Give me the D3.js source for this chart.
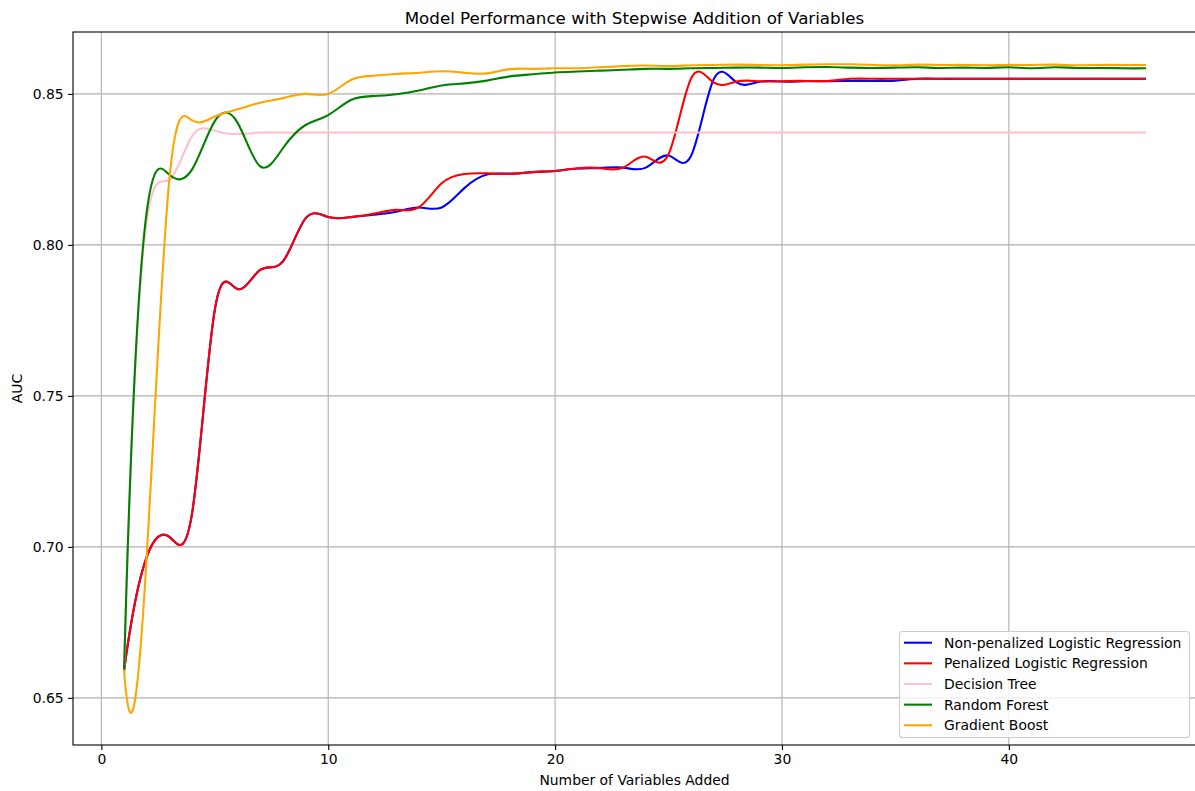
<!DOCTYPE html>
<html>
<head>
<meta charset="utf-8">
<script src="https://cdn.jsdelivr.net/npm/d3@7"></script>
<style>
  html, body { margin: 0; padding: 0; background: #fff; }
  svg { display: block; font-family: "DejaVu Sans", sans-serif; }
</style>
</head>
<body>
<svg id="chart" width="1195" height="791"></svg>
<script>
// ---- data ----
const variables = d3.range(1, 47);
const nonPenalizedLR = [0.659, 0.6967, 0.7033, 0.7112, 0.7785, 0.7854, 0.7917, 0.7945, 0.8088, 0.8092,
  0.8092, 0.8100, 0.8110, 0.8124, 0.8124, 0.8188, 0.8233, 0.8236, 0.8241, 0.8245,
  0.8253, 0.8255, 0.8256, 0.8256, 0.8296, 0.8296, 0.8550, 0.8538, 0.8540, 0.8541,
  0.8542, 0.8542, 0.8543, 0.8543, 0.8544, 0.8550, 0.8550, 0.8550, 0.8550, 0.8550,
  0.8550, 0.8550, 0.8550, 0.8550, 0.8550, 0.8550];
const penalizedLR = [0.659, 0.6967, 0.7033, 0.7112, 0.7785, 0.7854, 0.7917, 0.7945, 0.8088, 0.8092,
  0.8092, 0.8103, 0.8116, 0.8125, 0.8204, 0.8235, 0.8237, 0.8235, 0.8241, 0.8245,
  0.8254, 0.8254, 0.8256, 0.8292, 0.8300, 0.8552, 0.8537, 0.8541, 0.8542, 0.8542,
  0.8543, 0.8543, 0.8550, 0.8550, 0.8550, 0.8550, 0.8550, 0.8550, 0.8550, 0.8550,
  0.8550, 0.8550, 0.8550, 0.8550, 0.8550, 0.8550];
const decisionTree = [0.659, 0.808, 0.8215, 0.8360, 0.8378, 0.8367, 0.8372, 0.8372, 0.8372, 0.8372,
  0.8372, 0.8372, 0.8372, 0.8372, 0.8372, 0.8372, 0.8372, 0.8372, 0.8372, 0.8372,
  0.8372, 0.8372, 0.8372, 0.8372, 0.8372, 0.8372, 0.8372, 0.8372, 0.8372, 0.8372,
  0.8372, 0.8372, 0.8372, 0.8372, 0.8372, 0.8372, 0.8372, 0.8372, 0.8372, 0.8372,
  0.8372, 0.8372, 0.8372, 0.8372, 0.8372, 0.8372];
const randomForest = [0.659, 0.811, 0.8232, 0.8250, 0.8410, 0.8405, 0.8260, 0.8320, 0.8397, 0.8430,
  0.8480, 0.8493, 0.8499, 0.8511, 0.8528, 0.8535, 0.8544, 0.8558, 0.8565, 0.8571,
  0.8574, 0.8577, 0.8580, 0.8583, 0.8583, 0.8585, 0.8586, 0.8587, 0.8587, 0.8586,
  0.8588, 0.8589, 0.8587, 0.8586, 0.8587, 0.8588, 0.8586, 0.8587, 0.8586, 0.8588,
  0.8585, 0.8588, 0.8586, 0.8586, 0.8585, 0.8585];
const gradientBoost = [0.659, 0.697, 0.8220, 0.8412, 0.8425, 0.8449, 0.8471, 0.8486, 0.8500, 0.8500,
  0.8546, 0.8560, 0.8566, 0.8570, 0.8575, 0.8570, 0.8568, 0.8582, 0.8583, 0.8585,
  0.8585, 0.8588, 0.8592, 0.8594, 0.8592, 0.8595, 0.8596, 0.8597, 0.8596, 0.8595,
  0.8597, 0.8598, 0.8598, 0.8596, 0.8595, 0.8597, 0.8596, 0.8596, 0.8595, 0.8596,
  0.8596, 0.8597, 0.8595, 0.8596, 0.8596, 0.8596];

const seriesNames = ["Non-penalized Logistic Regression", "Penalized Logistic Regression",
  "Decision Tree", "Random Forest", "Gradient Boost"];
const seriesValues = [nonPenalizedLR, penalizedLR, decisionTree, randomForest, gradientBoost];
const seriesColors = ["blue", "red", "pink", "green", "orange"];

const xTicks = [0, 10, 20, 30, 40];
const yTicks = [0.65, 0.70, 0.75, 0.80, 0.85];
const yTickLabels = ["0.65", "0.70", "0.75", "0.80", "0.85"];

const titleText = "Model Performance with Stepwise Addition of Variables";
const xLabelText = "Number of Variables Added";
const yLabelText = "AUC";

// ---- layout ----
const plot = { left: 73, right: 1196, top: 32, bottom: 745 };
const x = d3.scaleLinear().domain([-1.25, 48.25]).range([plot.left, plot.right]);
const y = d3.scaleLinear().domain([0.6344, 0.8705]).range([plot.bottom, plot.top]);

// not-a-knot cubic spline curve (like scipy make_interp_spline k=3)
function NotAKnot(context) { this._context = context; }
NotAKnot.prototype = {
  areaStart() { this._line = 0; },
  areaEnd() { this._line = NaN; },
  lineStart() { this._x = []; this._y = []; },
  point(px, py) { this._x.push(+px); this._y.push(+py); },
  lineEnd() {
    const X = this._x, Y = this._y, n = X.length, c = this._context;
    if (!n) return;
    c.moveTo(X[0], Y[0]);
    if (n < 4) { for (let i = 1; i < n; i++) c.lineTo(X[i], Y[i]); return; }
    const h = [], d = [];
    for (let i = 0; i < n - 1; i++) { h.push(X[i + 1] - X[i]); d.push((Y[i + 1] - Y[i]) / h[i]); }
    // build system A M = b
    const A = Array.from({ length: n }, () => new Float64Array(n));
    const b = new Float64Array(n);
    A[0][0] = -h[1]; A[0][1] = h[0] + h[1]; A[0][2] = -h[0];
    for (let i = 1; i < n - 1; i++) {
      A[i][i - 1] = h[i - 1]; A[i][i] = 2 * (h[i - 1] + h[i]); A[i][i + 1] = h[i];
      b[i] = 6 * (d[i] - d[i - 1]);
    }
    A[n - 1][n - 3] = -h[n - 2]; A[n - 1][n - 2] = h[n - 3] + h[n - 2]; A[n - 1][n - 1] = -h[n - 3];
    // gaussian elimination with partial pivoting
    for (let k = 0; k < n; k++) {
      let p = k;
      for (let i = k + 1; i < n; i++) if (Math.abs(A[i][k]) > Math.abs(A[p][k])) p = i;
      if (p !== k) { const t = A[p]; A[p] = A[k]; A[k] = t; const tb = b[p]; b[p] = b[k]; b[k] = tb; }
      for (let i = k + 1; i < n; i++) {
        const f = A[i][k] / A[k][k];
        if (!f) continue;
        for (let j = k; j < n; j++) A[i][j] -= f * A[k][j];
        b[i] -= f * b[k];
      }
    }
    const M = new Float64Array(n);
    for (let i = n - 1; i >= 0; i--) {
      let s = b[i];
      for (let j = i + 1; j < n; j++) s -= A[i][j] * M[j];
      M[i] = s / A[i][i];
    }
    for (let i = 0; i < n - 1; i++) {
      const s0 = d[i] - h[i] * (2 * M[i] + M[i + 1]) / 6;
      const s1 = d[i] + h[i] * (M[i] + 2 * M[i + 1]) / 6;
      c.bezierCurveTo(X[i] + h[i] / 3, Y[i] + s0 * h[i] / 3,
                      X[i + 1] - h[i] / 3, Y[i + 1] - s1 * h[i] / 3,
                      X[i + 1], Y[i + 1]);
    }
  }
};
const curveNotAKnot = (context) => new NotAKnot(context);

const svg = d3.select("#chart");
const fontTick = "13.9px";

svg.append("defs").append("clipPath").attr("id", "clip")
  .append("rect").attr("x", plot.left).attr("y", plot.top)
  .attr("width", plot.right - plot.left).attr("height", plot.bottom - plot.top);

// grid
const grid = svg.append("g").attr("clip-path", "url(#clip)");
grid.selectAll("line.gx").data(xTicks).join("line")
  .attr("x1", d => x(d)).attr("x2", d => x(d))
  .attr("y1", plot.top).attr("y2", plot.bottom)
  .attr("stroke", "#b0b0b0").attr("stroke-width", 1.1);
grid.selectAll("line.gy").data(yTicks).join("line")
  .attr("class", "gy")
  .attr("y1", d => y(d)).attr("y2", d => y(d))
  .attr("x1", plot.left).attr("x2", plot.right)
  .attr("stroke", "#b0b0b0").attr("stroke-width", 1.1);

// lines
const line = d3.line().x((d, i) => x(variables[i])).y(d => y(d)).curve(curveNotAKnot);
const lines = svg.append("g").attr("clip-path", "url(#clip)");
seriesValues.forEach((vals, k) => {
  lines.append("path").attr("d", line(vals))
    .attr("fill", "none").attr("stroke", seriesColors[k])
    .attr("stroke-width", 2.08).attr("stroke-linejoin", "round").attr("stroke-linecap", "square");
});

// axes
const xAxis = d3.axisBottom(x).tickValues(xTicks).tickFormat(d3.format("d")).tickSize(4.9).tickPadding(4.5);
const yAxis = d3.axisLeft(y).tickValues(yTicks).tickFormat((d, i) => yTickLabels[i]).tickSize(4.9).tickPadding(4.5);
const gx = svg.append("g").attr("transform", `translate(0,${plot.bottom})`).call(xAxis);
const gy = svg.append("g").attr("transform", `translate(${plot.left},0)`).call(yAxis);
[gx, gy].forEach(g => {
  g.select(".domain").remove();
  g.selectAll(".tick line").attr("stroke", "#000").attr("stroke-width", 1.1);
  g.selectAll(".tick text").attr("fill", "#000").style("font-size", fontTick)
    .style("font-family", "'DejaVu Sans', sans-serif");
});

// spines
svg.append("rect").attr("x", plot.left).attr("y", plot.top)
  .attr("width", plot.right - plot.left).attr("height", plot.bottom - plot.top)
  .attr("fill", "none").attr("stroke", "#000").attr("stroke-width", 1.1);

// title & labels
svg.append("text").attr("x", (plot.left + plot.right) / 2).attr("y", 24)
  .attr("text-anchor", "middle").style("font-size", "16.7px").text(titleText);
svg.append("text").attr("x", (plot.left + plot.right) / 2).attr("y", 785)
  .attr("text-anchor", "middle").style("font-size", fontTick).text(xLabelText);
svg.append("text").attr("transform", `translate(22,${(plot.top + plot.bottom) / 2}) rotate(-90)`)
  .attr("text-anchor", "middle").style("font-size", fontTick).text(yLabelText);

// legend
const lg = svg.append("g");
lg.append("rect").attr("x", 899.5).attr("y", 631.5).attr("width", 290).attr("height", 106)
  .attr("rx", 3).attr("fill", "#fff").attr("fill-opacity", 0.8)
  .attr("stroke", "#cccccc").attr("stroke-width", 1.1);
seriesNames.forEach((name, k) => {
  const cy = 642.7 + k * 20.65;
  lg.append("line").attr("x1", 904).attr("x2", 932).attr("y1", cy).attr("y2", cy)
    .attr("stroke", seriesColors[k]).attr("stroke-width", 2.08);
  lg.append("text").attr("x", 944).attr("y", cy).attr("dy", "0.36em")
    .style("font-size", fontTick).text(name);
});
</script>
</body>
</html>
